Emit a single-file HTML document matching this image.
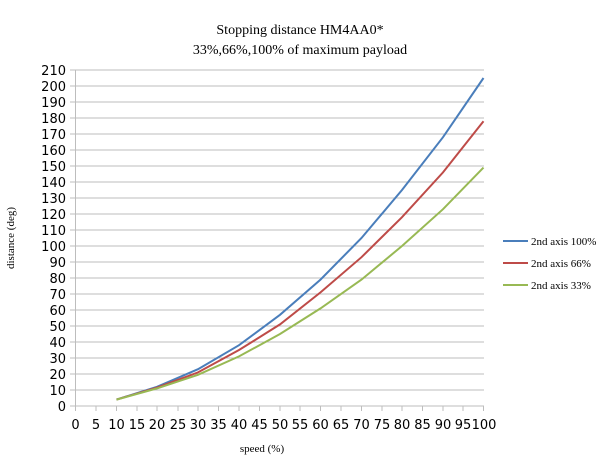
<!DOCTYPE html>
<html><head><style>body{margin:0;background:#fff}</style></head><body>
<svg width="600" height="464" xmlns="http://www.w3.org/2000/svg" font-family="Liberation Serif, serif">
<rect width="600" height="464" fill="#fff"/>
<text x="300" y="34" text-anchor="middle" font-size="14">Stopping distance HM4AA0*</text>
<text x="300" y="54" text-anchor="middle" font-size="14">33%,66%,100% of maximum payload</text>
<g stroke="#bdbdbd" stroke-width="1">
<line x1="70" x2="484" y1="406" y2="406"/><line x1="70" x2="484" y1="390" y2="390"/><line x1="70" x2="484" y1="374" y2="374"/><line x1="70" x2="484" y1="358" y2="358"/><line x1="70" x2="484" y1="342" y2="342"/><line x1="70" x2="484" y1="326" y2="326"/><line x1="70" x2="484" y1="310" y2="310"/><line x1="70" x2="484" y1="294" y2="294"/><line x1="70" x2="484" y1="278" y2="278"/><line x1="70" x2="484" y1="262" y2="262"/><line x1="70" x2="484" y1="246" y2="246"/><line x1="70" x2="484" y1="230" y2="230"/><line x1="70" x2="484" y1="214" y2="214"/><line x1="70" x2="484" y1="198" y2="198"/><line x1="70" x2="484" y1="182" y2="182"/><line x1="70" x2="484" y1="166" y2="166"/><line x1="70" x2="484" y1="150" y2="150"/><line x1="70" x2="484" y1="134" y2="134"/><line x1="70" x2="484" y1="118" y2="118"/><line x1="70" x2="484" y1="102" y2="102"/><line x1="70" x2="484" y1="86" y2="86"/><line x1="70" x2="484" y1="70" y2="70"/>
<line x1="75.5" x2="75.5" y1="70" y2="406"/>
</g>
<g font-family="DejaVu Sans, sans-serif" font-size="13" text-anchor="end" fill="#000">
<text x="66" y="411">0</text><text x="66" y="395">10</text><text x="66" y="379">20</text><text x="66" y="363">30</text><text x="66" y="347">40</text><text x="66" y="331">50</text><text x="66" y="315">60</text><text x="66" y="299">70</text><text x="66" y="283">80</text><text x="66" y="267">90</text><text x="66" y="251">100</text><text x="66" y="235">110</text><text x="66" y="219">120</text><text x="66" y="203">130</text><text x="66" y="187">140</text><text x="66" y="171">150</text><text x="66" y="155">160</text><text x="66" y="139">170</text><text x="66" y="123">180</text><text x="66" y="107">190</text><text x="66" y="91">200</text><text x="66" y="75">210</text>
</g>
<g font-family="DejaVu Sans, sans-serif" font-size="13" text-anchor="middle" fill="#000">
<text x="75.5" y="429">0</text><text x="96" y="429">5</text><text x="116.5" y="429">10</text><text x="137" y="429">15</text><text x="157" y="429">20</text><text x="178" y="429">25</text><text x="198" y="429">30</text><text x="218.5" y="429">35</text><text x="239" y="429">40</text><text x="259.5" y="429">45</text><text x="280" y="429">50</text><text x="300" y="429">55</text><text x="320.5" y="429">60</text><text x="341" y="429">65</text><text x="361.5" y="429">70</text><text x="382" y="429">75</text><text x="402" y="429">80</text><text x="422.5" y="429">85</text><text x="443" y="429">90</text><text x="463" y="429">95</text><text x="484" y="429">100</text>
</g>
<g stroke="#bdbdbd"><path d="M75.5 406v5M96 406v5M116.5 406v5M137 406v5M157 406v5M178 406v5M198 406v5M218.5 406v5M239 406v5M259.5 406v5M280 406v5M300 406v5M320.5 406v5M341 406v5M361.5 406v5M382 406v5M402 406v5M422.5 406v5M443 406v5M463 406v5M483.5 406v5"/></g>
<text x="262" y="452" text-anchor="middle" font-size="11">speed (%)</text>
<text transform="translate(14 238) rotate(-90)" text-anchor="middle" font-size="11">distance (deg)</text>
<g fill="none" stroke-width="2">
<polyline stroke="#4a7ebb" points="116.5,399.6 157,386.8 198,369.2 239,345.2 280,314.8 320.5,279.6 361.5,238 402,190 443,137.2 483.5,78"/>
<polyline stroke="#be4b48" points="116.5,399.6 157,387.6 198,372.4 239,350 280,324.4 320.5,292.4 361.5,257.2 402,217.2 443,172.4 483.5,121.2"/>
<polyline stroke="#98b954" points="116.5,399.6 157,388.4 198,374.8 239,356.4 280,334 320.5,308.4 361.5,279.6 402,246 443,209.2 483.5,167.6"/>
</g>
<g font-size="11">
<line x1="503" x2="528" y1="241" y2="241" stroke="#4a7ebb" stroke-width="2"/><text x="531" y="245">2nd axis 100%</text>
<line x1="503" x2="528" y1="263" y2="263" stroke="#be4b48" stroke-width="2"/><text x="531" y="267">2nd axis 66%</text>
<line x1="503" x2="528" y1="285" y2="285" stroke="#98b954" stroke-width="2"/><text x="531" y="289">2nd axis 33%</text>
</g>
</svg>
</body></html>
